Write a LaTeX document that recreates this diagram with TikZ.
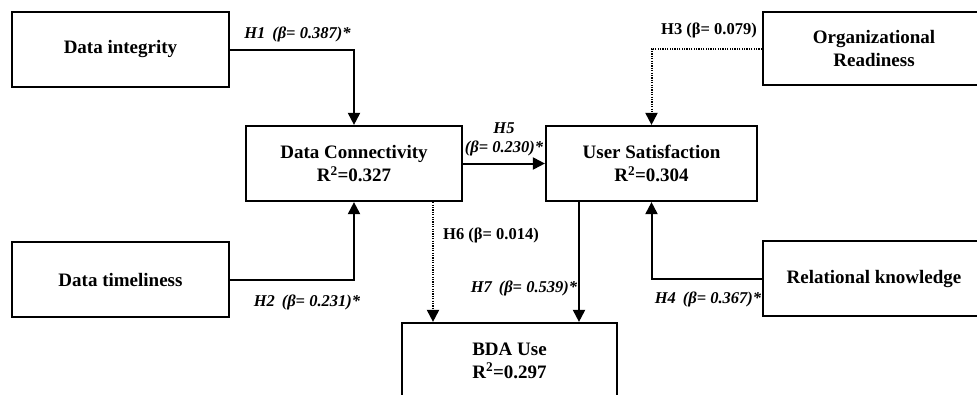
\documentclass[tikz,border=0pt]{standalone}
\usepackage{fontspec}
\setmainfont{Liberation Serif}
\usetikzlibrary{arrows.meta}

\begin{document}
\begin{tikzpicture}[x=1pt, y=-1pt,
    box/.style={draw, line width=2.2pt, align=center, font=\bfseries\fontsize{19}{23}\selectfont,
                inner sep=0pt},
    arr/.style={line width=2pt, -{Triangle[length=12pt,width=12pt]}},
    dotarr/.style={arr, dash pattern=on 1.2pt off 1.2pt},
    hlab/.style={font=\bfseries\itshape\fontsize{16.5}{19}\selectfont, inner sep=0pt},
    hlabup/.style={font=\bfseries\fontsize{16.5}{19}\selectfont, inner sep=0pt}]
    \useasboundingbox (0,0) rectangle (977,394);
    \clip (0,0) rectangle (977,394);

    \node[box, minimum width=217pt, minimum height=75pt] (integ) at (120.5,49.5) {Data integrity};
    \node[box, minimum width=217pt, minimum height=75pt] (timel) at (120.5,279.5) {Data timeliness};
    \node[box, minimum width=216pt, minimum height=75pt] (conn) at (354,163.5) {Data Connectivity\\R\textsuperscript{2}=0.327};
    \node[box, minimum width=211pt, minimum height=75pt] (usat) at (651.5,163.5) {User Satisfaction\\R\textsuperscript{2}=0.304};
    \node[box, minimum width=222pt, minimum height=73pt] (orgr) at (874,48.5) {Organizational\\Readiness};
    \node[box, minimum width=222pt, minimum height=75pt] (rel) at (874,278.5) {Relational knowledge};
    \node[box, minimum width=215pt, minimum height=75pt] (bda) at (509.5,360.5) {BDA Use\\R\textsuperscript{2}=0.297};

    \draw[arr] (integ.east) -| (conn.north);
    \draw[arr] (timel.east) -| (conn.south);
    \draw[arr] (conn.east) -- (usat.west);
    \draw[dotarr] (orgr.west) -| (usat.north);
    \draw[arr] (rel.west) -| (usat.south);
    \draw[dotarr] ([xshift=79pt]conn.south) -- ([xshift=79pt]conn.south |- bda.north);
    \draw[arr] ([xshift=-72.5pt]usat.south) -- ([xshift=-72.5pt]usat.south |- bda.north);

    \node[hlab] (lh1) at (297.5,34) {H1 \,(β= 0.387)*};
    \node[hlab] (lh2) at (307,302) {H2 \,(β= 0.231)*};
    \node[hlabup] (lh3) at (709,30) {H3 (β= 0.079)};
    \node[hlab] (lh4) at (708,299) {H4 \,(β= 0.367)*};
    \node[hlab, align=center] (lh5) at (504,139) {H5\\(β= 0.230)*};
    \node[hlabup] (lh6) at (491,235) {H6 (β= 0.014)};
    \node[hlab] (lh7) at (524,288) {H7 \,(β= 0.539)*};
\end{tikzpicture}
\end{document}
